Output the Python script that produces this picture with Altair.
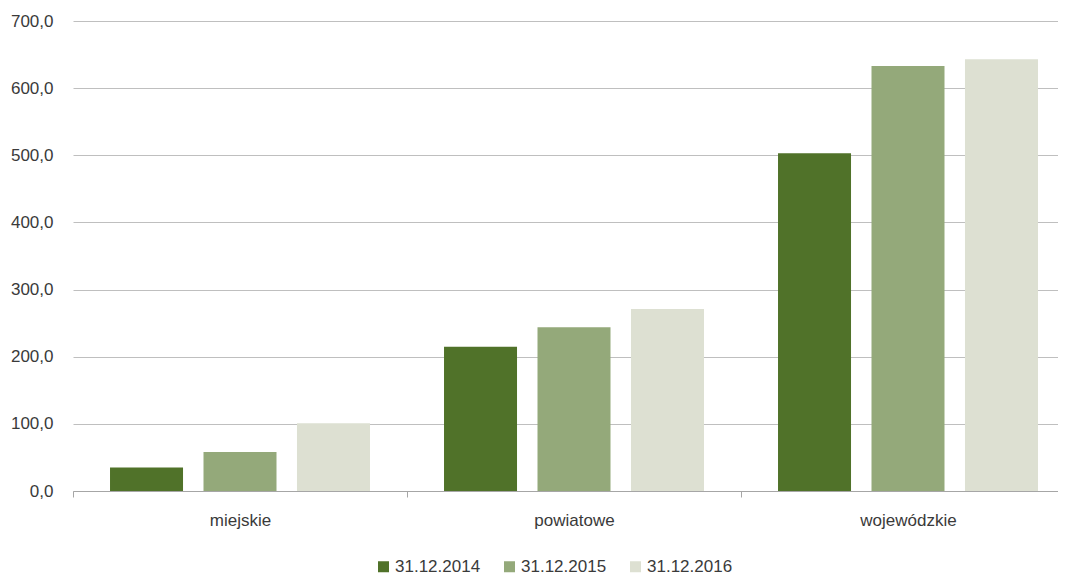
import altair as alt
import pandas as pd

categories = ["miejskie", "powiatowe", "wojewódzkie"]
series_names = ["31.12.2014", "31.12.2015", "31.12.2016"]
values_2014 = [35.0, 215.0, 503.0]
values_2015 = [58.0, 244.0, 633.0]
values_2016 = [101.0, 271.0, 643.0]
colors = ["#507229", "#94A97A", "#DDE0D2"]

rows = []
for s, vals in zip(series_names, [values_2014, values_2015, values_2016]):
    for c, v in zip(categories, vals):
        rows.append({"typ": c, "okres": s, "wartosc": v})
df = pd.DataFrame(rows)

FONT = "Liberation Sans"
FS = 17
TXT = "#3A3A3A"

chart = alt.Chart(df).mark_bar().encode(
    x=alt.X("typ:N", sort=categories, title=None,
            scale=alt.Scale(paddingInner=0, paddingOuter=0, range=[0, 1002]),
            axis=alt.Axis(labelAngle=0, tickBand="extent", tickSize=6, tickColor="#A6A6A6",
                          domainColor="#A6A6A6", domainWidth=1.2, labelPadding=15,
                          labelFontSize=FS, labelColor=TXT, labelFont=FONT, grid=False)),
    xOffset=alt.XOffset("okres:N", sort=series_names,
                        scale=alt.Scale(paddingInner=0.219, paddingOuter=0.396)),
    y=alt.Y("wartosc:Q", title=None,
            scale=alt.Scale(domain=[0, 700], nice=False),
            axis=alt.Axis(values=[0, 100, 200, 300, 400, 500, 600, 700],
                          labelExpr="replace(format(datum.value, '.1f'), '.', ',')",
                          domain=False, ticks=False, labelPadding=20,
                          labelFontSize=FS, labelColor=TXT, labelFont=FONT,
                          gridColor="#BFBFBF", gridWidth=1)),
    color=alt.Color("okres:N", sort=series_names,
                    scale=alt.Scale(domain=series_names, range=colors),
                    legend=alt.Legend(title=None, orient="none", direction="horizontal",
                                      legendX=302, legendY=537, symbolType="square",
                                      symbolSize=121, symbolStrokeWidth=0,
                                      labelFontSize=FS, labelFont=FONT, labelColor=TXT,
                                      labelOffset=3, columnPadding=20, padding=0)),
).properties(
    width=985, height=470,
    autosize=alt.AutoSizeParams(type="none"),
    padding={"left": 65, "top": 13, "right": 0, "bottom": 84},
).configure_view(stroke=None)

chart.save("out.html", embed_options={"renderer": "svg", "actions": False})
